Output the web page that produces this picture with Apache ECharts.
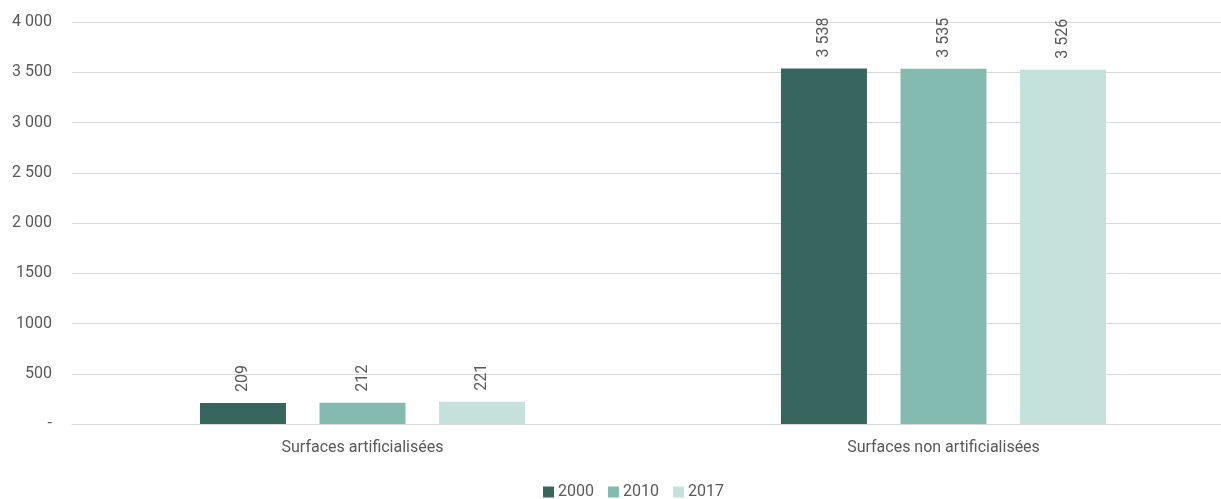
<!DOCTYPE html>
<html>
<head>
<meta charset="utf-8">
<script src="https://cdn.jsdelivr.net/npm/echarts@6/dist/echarts.min.js"></script>
<style>
html,body{margin:0;padding:0;background:#fff;overflow:hidden;}
#chart{width:1234px;height:499px;}
</style>
</head>
<body>
<div id="chart"></div>
<script>
const categories = ['Surfaces artificialisées', 'Surfaces non artificialisées'];
const seriesNames = ['2000', '2010', '2017'];
const values2000 = [209, 3538];
const values2010 = [212, 3535];
const values2017 = [221, 3526];
const yTickLabels = ['-', '500', '1000', '1500', '2 000', '2 500', '3 000', '3 500', '4 000'];

const colors = ['#37665f', '#84bbb1', '#c5e1dc'];
const FONT = 'Roboto';
const TEXT = '#595959';

function fmt(v) {
  return String(v).replace(/\B(?=(\d{3})+(?!\d))/g, ' ');
}

const allValues = [values2000, values2010, values2017];
const chart = echarts.init(document.getElementById('chart'), null, {renderer: 'canvas'});
chart.setOption({
  animation: false,
  color: colors,
  textStyle: {fontFamily: FONT},
  grid: {left: 72, right: 0, top: 22, bottom: 75, containLabel: false},
  legend: {
    data: seriesNames,
    left: 543, top: 484,
    padding: 0,
    itemWidth: 11, itemHeight: 11, itemGap: 14,
    icon: 'rect',
    textStyle: {fontFamily: FONT, fontSize: 16, color: TEXT, padding: [0, 0, 0, -1]}
  },
  xAxis: {
    type: 'category',
    data: categories,
    axisLine: {lineStyle: {color: '#d9d9d9', width: 1}},
    axisTick: {show: false},
    axisLabel: {fontFamily: FONT, fontSize: 16, color: TEXT, margin: 16}
  },
  yAxis: {
    type: 'value',
    min: 0, max: 4000, interval: 500,
    axisLine: {show: false},
    axisTick: {show: false},
    splitLine: {lineStyle: {color: '#d9d9d9', width: 1}},
    axisLabel: {
      fontFamily: FONT, fontSize: 16, color: TEXT, margin: 20,
      formatter: function (v) { return yTickLabels[Math.round(v / 500)]; }
    }
  },
  series: seriesNames.map(function (name, i) {
    return {
      name: name,
      type: 'bar',
      data: allValues[i],
      barWidth: 86,
      barGap: '39%',
      itemStyle: {color: colors[i]},
      label: {
        show: true,
        position: 'top',
        rotate: 90,
        align: 'left',
        verticalAlign: 'middle',
        distance: 11,
        fontFamily: FONT, fontSize: 16, color: TEXT,
        formatter: function (p) { return fmt(p.value); }
      }
    };
  })
});
</script>
</body>
</html>
